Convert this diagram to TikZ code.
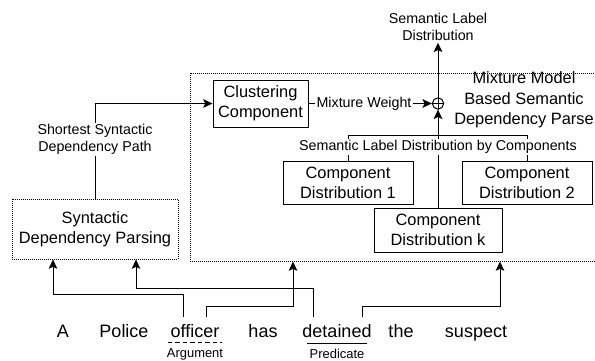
\documentclass[tikz,border=0pt]{standalone}
\usepackage{fontspec}
\setmainfont{Liberation Sans}
\usetikzlibrary{arrows.meta}

\begin{document}
\begin{tikzpicture}[x=0.75pt,y=-0.75pt,line width=0.75pt,
  box/.style={draw,align=center,inner sep=0pt,font=\fontsize{12.3}{15}\selectfont},
  dotbox/.style={box,dash pattern=on 0.75pt off 0.75pt},
  lbl/.style={fill=white,align=center,inner sep=1pt,font=\fontsize{10.7}{13}\selectfont},
  word/.style={anchor=base,inner xsep=0pt,inner ysep=4.5pt,font=\fontsize{13.5}{16}\selectfont},
  tag/.style={inner xsep=0pt,inner ysep=4pt,font=\fontsize{9.7}{11}\selectfont},
  arr/.style={-{Stealth[length=7pt,width=6.5pt,inset=1.5pt]}}]
  \useasboundingbox (0,0) rectangle (595,360);
  \node[dotbox,minimum width=305.25pt,minimum height=141pt] (mix) at (393.5,167) {};
  \node[dotbox,minimum width=124.5pt,minimum height=45pt] (syn) at (95,229) {Syntactic\\Dependency Parsing};
  \node[box,minimum width=71.25pt,minimum height=35.25pt] (clust) at (260.5,103.5) {Clustering\\Component};
  \node[box,minimum width=97.5pt,minimum height=32.25pt] (comp1) at (348,182.5) {Component\\Distribution 1};
  \node[box,minimum width=97.5pt,minimum height=32.25pt] (comp2) at (527,182.5) {Component\\Distribution 2};
  \node[box,minimum width=96pt,minimum height=33pt] (compk) at (438,230) {Component\\Distribution k};
  \node[draw,circle,minimum size=8.5pt,inner sep=0pt] (sum) at (438,103.5) {};
  \draw (sum.north) -- (sum.south) (sum.west) -- (sum.east);
  \node[box,draw=none,font=\fontsize{12.3}{15.4}\selectfont] (mixname) at (524,100) {Mixture Model\\Based Semantic\\Dependency Parse};
  \node[lbl] (out) at (438,27) {Semantic Label\\Distribution};
  \draw[arr] (syn.north) |- node[lbl,pos=0.31] {Shortest Syntactic\\Dependency Path} (clust.west);
  \draw[arr] (clust.east) -- node[lbl,pos=0.45] {Mixture Weight} (sum.west);
  \draw[arr] (sum.north) -- (out.south);
  \draw (comp1.north) -- ++(0,-25) -| (comp2.north);
  \draw[arr] (compk.north) -- (sum.south);
  \node[lbl] (bycomp) at (438,147) {Semantic Label Distribution by Components};
  \node[word] (a) at (63,337) {A};
  \node[word] (police) at (124,337) {Police};
  \node[word] (officer) at (195,337) {officer};
  \node[word] (has) at (263,337) {has};
  \node[word] (detained) at (337,337) {detained};
  \node[word] (the) at (401,337) {the};
  \node[word] (suspect) at (476,337) {suspect};
  \node[tag] (arg) at (195,354) {Argument};
  \node[tag] (pred) at (337,354) {Predicate};
  \draw[dash pattern=on 3.4pt off 2.2pt] ([xshift=1pt]arg.north west) -- ([xshift=-1pt]arg.north east);
  \draw ([xshift=-1.5pt]pred.north west) -- ([xshift=1.5pt]pred.north east);
  \draw[arr] ([xshift=-9pt]officer.north) -- ++(0,-23) -| ([xshift=-31.5pt]syn.south);
  \draw[arr] ([xshift=8.25pt]officer.north) -- ++(0,-11) -| ([xshift=-75.375pt]mix.south);
  \draw[arr] ([xshift=-18pt]detained.north) -- ++(0,-29) -| ([xshift=30.75pt]syn.south);
  \draw[arr] ([xshift=18.75pt]detained.north) -- ++(0,-11) -| ([xshift=79.875pt]mix.south);
\end{tikzpicture}
\end{document}
